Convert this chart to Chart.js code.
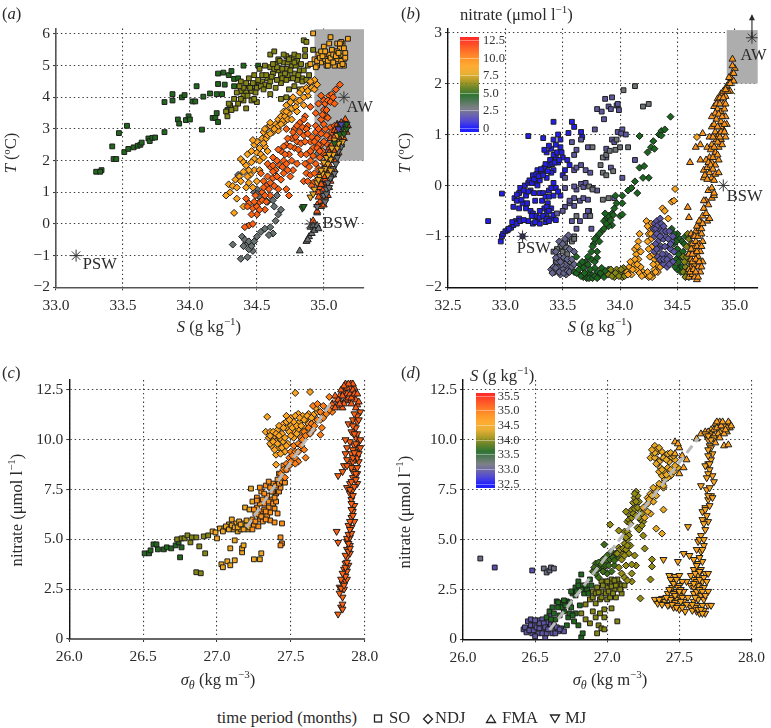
<!DOCTYPE html>
<html>
<head>
<meta charset="utf-8">
<title>Nitrate, temperature and salinity</title>
<script src="https://cdn.jsdelivr.net/npm/chart.js@4"></script>
<style>
    html, body { margin: 0; background: #fff; }
    body { position: relative; width: 771px; height: 728px; overflow: hidden; font-family: "Liberation Serif", serif; color: #2a2a2a; }
    canvas { position: absolute; }
    .t { position: absolute; font-size: 16.6px; line-height: 16px; white-space: nowrap; transform: translate(-50%, -50%); }
    .t.rot { transform: translate(-50%, -50%) rotate(-90deg); }
    .t.left { transform: translate(0, -50%); }
    .t sup { font-size: 11px; line-height: 0; }
    .t sub { font-size: 12px; line-height: 0; }
    .bar { position: absolute; width: 19px; height: 95px; opacity: .9; }
    .bar i { position: absolute; left: 0; width: 19px; height: 1px; background: #ffffff60; }
    .cb { position: absolute; font-size: 12.5px; line-height: 12px; transform: translateY(-50%); color: #333; }
    svg { position: absolute; }
</style>
</head>
<body>
<canvas id="panelA" width="385" height="340" style="left:0;top:0"></canvas>
<canvas id="panelB" width="386" height="340" style="left:385px;top:0"></canvas>
<canvas id="panelC" width="385" height="345" style="left:0;top:345px"></canvas>
<canvas id="panelD" width="386" height="345" style="left:385px;top:345px"></canvas>

<span class="t left" style="left:2px;top:14px">(<i>a</i>)</span>
<span class="t left" style="left:401px;top:14px">(<i>b</i>)</span>
<span class="t left" style="left:2px;top:373px">(<i>c</i>)</span>
<span class="t left" style="left:401px;top:373px">(<i>d</i>)</span>

<span class="t" style="left:209px;top:327px"><i>S</i> (g kg<sup>−1</sup>)</span>
<span class="t rot" style="left:11px;top:153px"><i>T</i> (ºC)</span>
<span class="t" style="left:600px;top:327px"><i>S</i> (g kg<sup>−1</sup>)</span>
<span class="t rot" style="left:405px;top:153px"><i>T</i> (ºC)</span>
<span class="t" style="left:218px;top:680px"><i>σ<sub>θ</sub></i> (kg m<sup>−3</sup>)</span>
<span class="t rot" style="left:17px;top:510px">nitrate (μmol l<sup>−1</sup>)</span>
<span class="t" style="left:610px;top:680px"><i>σ<sub>θ</sub></i> (kg m<sup>−3</sup>)</span>
<span class="t rot" style="left:405px;top:512px">nitrate (μmol l<sup>−1</sup>)</span>

<span class="t left" style="left:460px;top:15px">nitrate (μmol l<sup>−1</sup>)</span>
<span class="t left" style="left:470px;top:376px"><i>S</i> (g kg<sup>−1</sup>)</span>

<span class="t left" style="left:217px;top:718px">time period (months)</span>
<svg width="771" height="728" style="left:0;top:0;pointer-events:none" fill="none" stroke="#222" stroke-width="1.3">
    <rect x="374.5" y="715" width="7" height="7"/>
    <path d="M428 714.5l4.5 4.5-4.5 4.5-4.5-4.5z"/>
    <path d="M491 715l4.5 7.5h-9z"/>
    <path d="M555 722.5l4.5-7.5h-9z"/>
</svg>
<span class="t left" style="left:389px;top:718px">SO</span>
<span class="t left" style="left:435px;top:718px">NDJ</span>
<span class="t left" style="left:502px;top:718px">FMA</span>
<span class="t left" style="left:565px;top:718px">MJ</span>

<script>
// axes
const aXTicks = [33, 33.5, 34, 34.5, 35];
const aXLabels = ["33.0", "33.5", "34.0", "34.5", "35.0"];
const aYTicks = [-2, -1, 0, 1, 2, 3, 4, 5, 6];
const aYLabels = ["−2", "−1", "0", "1", "2", "3", "4", "5", "6"];
const bXTicks = [32.5, 33, 33.5, 34, 34.5, 35];
const bXLabels = ["32.5", "33.0", "33.5", "34.0", "34.5", "35.0"];
const bYTicks = [-2, -1, 0, 1, 2, 3];
const bYLabels = ["−2", "−1", "0", "1", "2", "3"];
const sigmaTicks = [26, 26.5, 27, 27.5, 28];
const sigmaLabels = ["26.0", "26.5", "27.0", "27.5", "28.0"];
const nitrateTicks = [0, 2.5, 5, 7.5, 10, 12.5];
const nitrateLabels = ["0", "2.5", "5.0", "7.5", "10.0", "12.5"];
const salinityTicks = [32.5, 33, 33.5, 34, 34.5, 35, 35.5];
const salinityLabels = ["32.5", "33.0", "33.5", "34.0", "34.5", "35.0", "35.5"];

// colour scale shared by all panels, position 0..1 along the bar
const colourStops = [
    [0, "#0808ff"], [.07, "#3a30d8"], [.14, "#5a52a8"], [.22, "#70747a"], [.3, "#3d6a45"],
    [.36, "#1a661e"], [.44, "#5a7812"], [.52, "#a89212"], [.6, "#e8a820"], [.68, "#ffa41c"],
    [.76, "#ff8a12"], [.86, "#ff5a10"], [1, "#ff1010"]
];

// panel a: salinity, temperature
const aSoGreen = [[33.3,1.65],[33.34,1.7],[33.33,1.65],[33.42,2.45],[33.43,2.05],[33.45,2.05],[33.47,2.87],[33.51,2.27],[33.53,3.1],[33.54,2.37],[33.58,2.42],[33.61,2.47],[33.63,2.5],[33.64,2.57],[33.69,2.7],[33.7,2.62],[33.72,2.72],[33.74,2.73],[33.81,2.9],[33.81,3.85],[33.87,3.9],[33.87,4.1],[33.91,3.3],[33.92,3.17],[33.94,4],[33.96,4.07],[33.97,3.28],[33.99,3.4],[34,3.3],[34.02,3.87],[34.04,3.87],[34.05,4.35],[34.09,2.98],[34.1,4.02],[34.15,4.12],[34.17,3.35],[34.19,3.35],[34.2,3.5],[34.21,3.22],[34.2,4.1],[34.21,4.42],[34.24,4.1],[34.26,4.4],[34.21,4.75],[34.25,4.78],[34.29,4.7],[34.31,4.83],[34.28,3.6],[34.33,4.58],[34.33,4.35],[34.36,4.6],[34.4,5],[34.51,5]];
const aSoOlive = [[34.38,4.2],[34.4,4.3],[34.42,4.15],[34.44,4.35],[34.46,4.2],[34.48,4.4],[34.5,4.3],[34.52,4.45],[34.54,4.5],[34.56,4.4],[34.58,4.6],[34.6,4.5],[34.62,4.75],[34.6,4.95],[34.64,5.05],[34.66,4.85],[34.68,4.7],[34.7,5.1],[34.72,4.9],[34.74,4.6],[34.76,5],[34.78,4.75],[34.8,5.15],[34.82,4.85],[34.84,4.6],[34.86,5.3],[34.88,5],[34.72,5.3],[34.76,5.25],[34.6,5.35],[34.63,5.45],[34.4,3.9],[34.36,3.8],[34.3,3.75],[34.27,3.55],[34.33,3.95],[34.42,3.65],[34.46,3.9],[34.5,3.85],[34.6,4.1],[34.68,3.95],[34.72,4],[34.74,4.25],[34.78,4.35],[34.82,4.25],[34.84,4.5],[34.76,3.95],[34.54,4.7],[34.48,4.7],[34.52,4.9],[34.56,5],[34.7,5.35],[34.78,5.35],[34.85,5.8],[34.87,5.75],[34.86,5.5],[34.92,5.5],[34.89,4.7],[34.66,5.2],[34.73,4.7],[34.8,4.55],[34.68,4.45],[34.64,4.3],[34.38,4.5],[34.44,4.6],[34.35,4.15],[34.45,4.3],[34.47,4.45],[34.49,4.15],[34.51,4.55],[34.53,4.35],[34.55,4.25],[34.57,4.7],[34.59,4.35],[34.61,4.65],[34.63,4.9],[34.65,4.55],[34.67,5.15],[34.69,4.9],[34.71,4.75],[34.73,5.1],[34.75,4.85],[34.77,4.6],[34.79,5],[34.81,4.7],[34.83,5.05],[34.85,4.85],[34.87,4.55],[34.69,4.6],[34.65,4.95],[34.62,5.05],[34.74,5.2],[34.81,5.3],[34.78,5.1],[34.72,4.55],[34.42,4.45],[34.4,4.05],[34.37,4.35],[34.34,3.65],[34.31,3.6],[34.29,3.8],[34.28,3.4],[34.38,3.95],[34.43,4.05],[34.48,3.95]];
const aSoOrange = [[34.92,6.02],[34.93,5.2],[34.96,5.35],[34.98,5.1],[35,5.3],[35.02,5],[35.04,5.35],[35.06,5.1],[35.08,5.45],[35.1,5.2],[35.12,5.55],[35.14,5.3],[35.14,5.7],[35.16,5.4],[35.18,5.85],[35.15,5],[35.12,5],[35.1,5.7],[35.08,5],[35.05,5.9],[35.04,5.7],[35,5.6],[34.95,5],[34.9,5.05],[35.06,5.5],[35.1,5.45],[35.01,5.2],[34.98,5.45],[35.13,5.75],[35.15,5.2],[34.94,4.95],[34.95,5.15],[34.97,5.25],[34.99,5.3],[35.01,5.45],[35.03,5.15],[35.05,5.25],[35.07,5.35],[35.09,5.3],[35.11,5.4],[35.13,5.15],[35.15,5.55],[35.16,5.25],[35.12,5.7],[35.14,5.05],[35.07,5.1],[35.03,5]];
const aNdjOrange = [[34.27,.9],[34.3,1],[34.29,1.25],[34.32,1.2],[34.34,1.4],[34.33,.35],[34.37,1.5],[34.38,2.05],[34.4,1.95],[34.42,1.85],[34.43,2.2],[34.46,2.3],[34.48,2.05],[34.48,2.5],[34.5,2.6],[34.52,2.4],[34.54,2.7],[34.56,2.45],[34.55,2.9],[34.58,3.05],[34.6,3.1],[34.62,2.9],[34.64,3.15],[34.66,3.3],[34.68,3.4],[34.7,3.55],[34.72,3.75],[34.75,3.85],[34.77,4],[34.8,3.85],[34.82,4.15],[34.84,4.25],[34.87,4.3],[34.9,4.45],[34.93,4.55],[34.95,4.4],[34.88,4.05],[34.74,3.5],[34.66,2.95],[34.57,2.7],[34.45,1.55],[34.48,1.7],[34.52,2],[34.42,1.15],[34.35,.8],[34.4,.55],[34.44,1.7],[34.47,2.65],[34.7,3.2],[34.35,1.15],[34.38,1.35],[34.4,1.65],[34.43,1.5],[34.46,1.95],[34.5,2.25],[34.53,2.2],[34.55,2.55],[34.58,2.8],[34.6,2.85],[34.63,3],[34.66,3.1],[34.69,3.25],[34.71,3.4],[34.73,3.3],[34.76,3.65],[34.79,3.7],[34.82,3.9],[34.85,4],[34.88,4.2],[34.91,4.3],[34.93,4.25],[34.9,4.5],[34.85,3.75],[34.8,3.55],[34.76,3.3],[34.72,3.55],[34.68,3.15],[34.5,1.35],[34.44,1.3],[34.47,1.15],[34.52,1.7],[34.55,2.1],[34.58,2.3],[34.56,3],[34.6,3.2]];
const aNdjGrey = [[34.38,-1.1],[34.43,-1.05],[34.47,-.85],[34.44,-.8],[34.42,-.6],[34.39,-.4],[34.41,-.5],[34.44,-.55],[34.32,-.65],[34.48,-.55],[34.5,-.4],[34.53,-.25],[34.56,-.15],[34.6,-.1],[34.62,-.3],[34.59,-.35],[34.64,.1],[34.66,.3],[34.68,.45],[34.63,.55],[34.58,.7],[34.55,.8],[34.5,1.1],[34.53,.95],[34.48,1],[34.5,.95],[34.52,.85],[34.62,.75],[34.65,.9],[34.36,1.55],[34.4,-.7],[34.46,-.7],[34.95,2.2]];
const aNdjRed = [[34.42,.8],[34.44,.65],[34.47,.5],[34.49,.9],[34.5,.3],[34.52,.7],[34.54,1],[34.55,1.35],[34.57,1.2],[34.58,1.5],[34.6,1.8],[34.62,1.45],[34.64,1.7],[34.65,2],[34.66,1.1],[34.68,2.3],[34.7,1.6],[34.7,2],[34.72,2.5],[34.74,2.2],[34.75,1.5],[34.76,2.7],[34.78,2.4],[34.78,3],[34.8,2.6],[34.82,3.2],[34.83,2.2],[34.85,2.8],[34.86,3.4],[34.88,3.1],[34.72,1.1],[34.74,.9],[34.77,1.7],[34.8,1.9],[34.85,1.35],[34.87,1.6],[34.9,2],[34.92,2.4],[34.92,1.3],[34.95,2.7],[34.96,1.75],[34.98,3.3],[35,3.6],[35.02,3.4],[35.04,4.05],[35.06,4.1],[35.09,4.25],[35.12,4.4],[34.96,3.8],[34.98,4.05],[35,3.9],[34.94,3.5],[34.9,3.7],[34.6,.9],[34.53,1.6],[34.62,2.1],[34.66,2.35],[34.44,-.05],[34.41,-.1],[34.47,0],[34.56,.45],[34.58,1.9],[34.9,1.55],[34.72,3],[34.9,2.6],[34.96,1.25],[34.98,1.6],[35,1.9],[35,2.2],[34.98,2.5],[34.97,2.1],[34.99,2.3],[35,2.6],[35.02,2.8],[35.03,2.5],[35.05,3.05],[35.08,3.1],[34.96,2.5],[34.94,2.9],[35.01,3],[35.06,2.9],[34.46,.3],[34.43,.55],[34.48,.7],[34.5,.55],[34.52,.45],[34.54,.75],[34.56,.9],[34.55,1.15],[34.57,.7],[34.59,1.1],[34.6,1.3],[34.62,1.65],[34.63,1.2],[34.62,1.85],[34.65,1.5],[34.67,1.85],[34.68,1.4],[34.69,1.8],[34.71,2.2],[34.7,2.45],[34.72,1.9],[34.73,1.7],[34.73,2.7],[34.75,2.45],[34.76,2],[34.77,2.9],[34.79,2.75],[34.8,3.1],[34.81,2.35],[34.82,2.9],[34.83,2.55],[34.84,3.05],[34.86,2.6],[34.87,3],[34.85,3.3],[34.88,2.85],[34.87,2.2],[34.86,1.9],[34.88,1.35],[34.89,1.8],[34.9,2.3],[34.91,1.2],[34.91,2.75],[34.92,2.15],[34.93,1.6],[34.93,2.6],[34.94,1.9],[34.94,3.1],[34.95,1.4],[34.95,2.4],[34.96,3],[34.97,2.3],[34.98,2.85],[34.99,3.45],[35,3.15],[35.01,3.8],[35.02,3.6],[35.03,3.9],[35.05,3.85],[35.07,4],[35.08,3.8],[35.03,3.35]];
const aFmaGrey = [[34.82,-.85],[34.87,-.55],[34.89,-.4],[34.91,-.3],[34.9,-.1],[34.94,-.1],[34.92,-.05],[34.95,.35],[34.93,-.2],[34.95,-.05],[34.96,-.15],[34.88,-.5]];
const aFmaRed = [[34.92,.1],[34.95,.4],[34.97,.7],[34.96,1],[34.99,.9],[35,1.2],[34.98,1.4],[35.02,1.3],[35.03,1.6],[35,1.7],[35.05,1.8],[35.02,2],[35.06,2.2],[35.04,2.4],[35.08,2.5],[35.05,2.7],[35.1,2.7],[35.08,2.95],[35.12,3],[35.16,3.3],[35.13,3.2],[35.1,3.15],[34.95,.6],[34.98,.55],[35,.6],[34.96,.85],[35.01,.85],[35.03,.9],[34.97,1.15],[35,1.1],[35.04,1.15],[34.98,1.25],[35.01,1.4],[35.05,1.35],[35,1.5],[35.04,1.5],[35.07,1.55],[35.01,1.85],[35.04,1.75],[35.08,1.7],[35.03,2.05],[35.06,2],[35.09,2],[35.04,2.25],[35.08,2.3],[35.11,2.25],[35.06,2.5],[35.1,2.5],[35.13,2.5],[35.08,2.75],[35.12,2.75],[35.15,2.7],[35.1,2.95],[35.14,2.95],[35.17,2.9],[35.12,3.1],[35.15,3.15],[35.18,3.1]];
const aMjOrange = [[34.9,.85],[34.93,1.1],[34.95,1.3],[34.97,1.5],[34.99,1.6],[35.01,1.75],[35.03,1.9],[35.05,2.05],[35.07,2.2],[35.1,2.4],[35.12,2.6],[35.14,2.8],[35.16,2.95],[34.92,.95],[34.96,1.4],[34.98,1.7],[35,1.95],[35.02,2.1],[35.04,2.2],[35.06,2.4],[35.08,2.65],[35.1,2.8],[35.12,3],[35.14,2.6],[35.11,2.55],[35.03,1.55],[35.05,1.7]];
const aMjGrey = [[35,.9],[35.02,1.1],[35.03,1.3],[35.06,1.5],[35.07,1.75],[35.09,1.9],[35.1,2.1],[35.11,2.3],[35.13,2.45],[35.01,.7],[35.02,.95],[35.04,1.15],[35.05,1.45],[35.08,1.6],[34.95,.55]];
const aMjGreen = [[34.84,.5],[34.85,.55],[35.08,2.55],[35.12,2.85],[35.14,3.05],[35.16,3.1],[35.17,3],[35.15,2.85],[35.17,3.15],[35.12,3.15]];
const aMjPurple = [[35.11,3],[35.13,3.15]];

// panel b: salinity, temperature
const bSoBlue = [[32.85,-.7],[32.96,-1.1],[32.97,-1],[32.98,-.95],[33,-.9],[33.02,-.88],[33.05,-.83],[33.07,-.78],[33.09,-.7],[33.12,-.65],[33.15,-1],[32.97,-.16],[33.07,-.42],[33.08,-.25],[33.1,-.3],[33.12,-.15],[33.12,-.45],[33.15,-.35],[33.13,-.05],[33.18,-.2],[33.17,0],[33.2,.05],[33.22,-.1],[33.24,.2],[33.26,.05],[33.28,.3],[33.3,.1],[33.32,.28],[33.34,.35],[33.36,.15],[33.38,.4],[33.4,.5],[33.42,.3],[33.44,.55],[33.46,.45],[33.48,.75],[33.4,.25],[33.36,.65],[33.34,.7],[33.42,.6],[33.44,.8],[33.48,.9],[33.5,.55],[33.54,.5],[33.2,.97],[33.33,.93],[33.42,1.25],[33.55,1.03],[33.58,1.25],[33.6,1.15],[33.66,1.05],[33.67,.95],[33.2,-.7],[33.24,-.75],[33.28,-.7],[33.3,-.75],[33.35,-.72],[33.18,-.45],[33.22,-.5],[33.26,-.3],[33.3,-.15],[33.32,-.3],[33.28,0],[33.38,-.1],[33.34,-.45],[33.4,-.65],[33.44,-.68],[33.3,-.5],[33.36,-.55],[33.37,-.35],[33.4,-.45],[33.42,-.2],[33.44,-.05],[33.48,-.2],[33.42,.05],[33.5,.2],[33.52,.3],[33.56,.4],[33.03,-.85],[33.06,-.72],[33.1,-.75],[33.13,-.7],[33.16,-.68],[33.1,-.18],[33.14,-.28],[33.16,-.1],[33.19,-.35],[33.2,-.12],[33.21,.1],[33.23,.05],[33.25,.12],[33.27,.22],[33.29,.18],[33.31,.32],[33.33,.2],[33.35,.42],[33.37,.28],[33.39,.5],[33.41,.42],[33.43,.45],[33.45,.65],[33.47,.5],[33.49,.65],[33.4,.72],[33.38,.78],[33.42,.9],[33.46,1],[33.24,-.55],[33.27,-.6],[33.3,-.63],[33.33,-.6],[33.36,-.66],[33.38,-.7],[33.25,-.15],[33.33,-.15],[33.35,-.22],[33.38,-.22],[33.4,-.05],[33.46,-.12],[33.36,-.42],[33.38,-.5],[33.42,-.58],[33.26,-.72],[33.23,-.6]];
const bSoSlate = [[33.58,.85],[33.62,.7],[33.6,.6],[33.66,.9],[33.72,.75],[33.78,1.1],[33.8,1.5],[33.84,1.45],[33.86,1.3],[33.87,1.7],[33.9,1.55],[33.93,1.73],[33.92,1.5],[33.97,1.57],[33.98,1.6],[33.99,1.48],[33.93,.9],[33.95,.85],[33.98,1.05],[34.02,1.1],[34.05,1],[34.01,1.02],[34.13,.5],[33.6,.3],[33.62,.35],[33.66,.4],[33.7,.3],[33.74,.25],[33.66,.03],[33.62,-.08],[33.68,-.03],[33.6,-.4],[33.56,-.35],[33.52,-.42],[33.6,-.25],[33.65,-.3],[33.68,-.25],[33.72,-.28],[33.58,-.7],[33.62,-.85],[33.7,-.6],[33.65,-.7],[33.73,-.5],[33.75,-.85],[33.56,-.3],[33.5,-.5],[33.45,-.55],[33.52,-.05],[33.6,-.02],[33.7,.05],[33.52,.15],[33.72,-.5],[33.76,-.05],[33.8,-.1],[33.88,.55],[33.88,.72],[33.92,.35],[34.02,.15],[33.95,-.25]];
const bSoGrey = [[33.76,.75],[33.85,.55],[33.88,.6],[33.91,.68],[33.83,.4],[33.85,.25],[33.88,.2],[33.94,.28],[33.96,.7],[34.03,1.87],[34.13,1.95],[34.2,1.55],[34.25,1.6],[33.73,-.02],[33.76,-.08],[33.85,-.28],[33.9,-.25],[33.62,-.6],[33.74,-.6],[34,.75],[34.07,.75],[33.97,.9],[33.6,-1],[33.56,-1.05],[33.58,-1.1],[33.52,-1.12],[33.48,-1.2],[33.45,-1.25],[33.42,-1.3],[33.5,-1.3],[33.53,-1.22],[33.46,-1.4],[33.44,-1.5],[33.5,-1.45],[33.54,-1.35],[33.56,-1.5],[33.6,-1.05]];
const bNdjSlate = [[33.4,-1.65],[33.43,-1.7],[33.46,-1.6],[33.48,-1.75],[33.5,-1.65],[33.53,-1.75],[33.55,-1.6],[33.52,-1.55],[33.45,-1.5],[33.58,-1.6],[33.42,-1.6],[33.6,-1.55],[33.47,-1.4],[33.51,-1.42],[33.41,-1.72],[33.44,-1.62],[33.47,-1.7],[33.49,-1.55],[33.51,-1.72],[33.54,-1.68],[33.56,-1.7],[33.44,-1.42],[33.48,-1.5],[33.54,-1.45],[33.58,-1.45],[33.6,-1.3],[33.56,-1.25],[33.44,-1.3],[33.47,-1.1],[33.5,-1.15],[33.52,-1.05],[33.55,-.98]];
const bNdjGreen = [[33.62,-1.4],[33.65,-1.55],[33.68,-1.62],[33.7,-1.5],[33.75,-1.45],[33.8,-1.3],[33.75,-1.3],[33.77,-1.15],[33.8,-1],[33.84,-.9],[33.88,-.65],[33.9,-.6],[33.93,-.55],[33.95,-.45],[33.97,-.35],[33.93,-.78],[33.9,-.8],[33.87,-.55],[34,-.6],[34.02,-.57],[34.02,-.35],[33.96,-.2],[34.02,-.2],[34.07,-.1],[34.1,-.05],[34.15,-.15],[34.13,.08],[34.25,.15],[34.2,.15],[34.17,.35],[34.21,.38],[34.17,.97],[34.24,.65],[34.27,.75],[34.3,.72],[34.29,.87],[34.34,1],[34.36,1.07],[34.39,1.1],[34.44,1.35],[34.36,.98],[33.65,-1.75],[33.7,-1.8],[33.75,-1.75],[33.8,-1.7],[33.85,-1.7],[33.9,-1.65],[33.6,-1.7],[33.72,-1.72],[33.82,-1.78],[33.78,-1.62],[33.88,-1.75],[33.68,-1.8],[33.62,-1.72],[34.45,-.85],[34.48,-1],[34.5,-.95],[34.52,-1.05],[34.54,-1.1],[34.5,-1.25],[34.47,-1.3],[34.46,-1.5],[34.49,-1.45],[34.52,-1.6],[34.5,-1.65],[34.55,-1.3],[34.53,-1.4],[34.57,-1],[33.64,-1.65],[33.66,-1.78],[33.69,-1.72],[33.71,-1.82],[33.73,-1.82],[33.74,-1.65],[33.76,-1.82],[33.78,-1.78],[33.8,-1.82],[33.83,-1.72],[33.84,-1.62],[33.86,-1.8],[33.87,-1.68],[33.72,-1.55],[33.67,-1.5],[33.78,-1.5],[33.8,-1.42],[33.72,-1.4],[33.76,-1.2],[33.78,-1.05],[33.82,-1.1],[33.82,-.95],[33.86,-.85],[33.86,-.7],[33.88,-.75],[33.92,-.68],[33.94,-.58],[34.47,-1.15],[34.49,-1.1],[34.51,-1.35],[34.48,-1.6],[34.51,-1.5],[34.53,-1.7],[34.47,-.95],[34.54,-1.6],[34.56,-1.15]];
const bNdjOlive = [[33.9,-1.75],[33.92,-1.65],[33.95,-1.8],[33.98,-1.7],[34,-1.75],[34.02,-1.8],[34.05,-1.7],[33.97,-1.65],[34.03,-1.62],[34.55,-1.4],[34.57,-1.6],[34.58,-1.2],[34.6,-1.05],[34.6,-1.5],[34.55,-1.7],[34.58,-1.75],[34.62,-1.3],[34.6,-1.8],[33.93,-1.78],[33.96,-1.72],[33.99,-1.78],[34.01,-1.65],[34.04,-1.78],[34.56,-1.5],[34.58,-1.4],[34.6,-1.65],[34.57,-1.8],[34.62,-1.15],[34.59,-.95]];
const bNdjOrange = [[34.06,-1.7],[34.08,-1.6],[34.1,-1.75],[34.12,-1.55],[34.14,-1.65],[34.14,-1.35],[34.13,-1.25],[34.16,-1.1],[34.17,-.95],[34.16,-1.45],[34.18,-1.6],[34.2,-1.7],[34.22,-1.75],[34.25,-1.8],[34.28,-1.75],[34.3,-1.65],[34.32,-1.55],[34.3,-1.45],[34.33,-1.7],[34.28,-1.8],[34.23,-.7],[34.26,-.85],[34.27,-1.05],[34.25,-.95],[34.28,-1.2],[34.26,-1.4],[34.37,-.45],[34.39,-.5],[34.42,-.65],[34.45,-.32],[34.47,-.3],[34.48,-.07],[34.27,-.75],[34.35,-1.6],[34.67,.95],[34.07,-1.75],[34.09,-1.5],[34.11,-1.65],[34.13,-1.45],[34.15,-1.55],[34.15,-1.2],[34.18,-1.3],[34.17,-1.72],[34.19,-1.78],[34.24,-1.7],[34.26,-1.78],[34.29,-1.55],[34.31,-1.7],[34.32,-1.4],[34.29,-1.35],[34.24,-1.1],[34.25,-1.25],[34.24,-.8],[34.27,-.95]];
const bNdjPurple = [[34.3,-.75],[34.32,-.7],[34.35,-.65],[34.34,-.85],[34.37,-.9],[34.3,-1],[34.33,-1.1],[34.36,-1.2],[34.38,-1.05],[34.3,-1.3],[34.33,-1.4],[34.36,-1.5],[34.4,-1.35],[34.43,-1.4],[34.42,-1.2],[34.45,-1.1],[34.4,-1],[34.44,-1.25],[34.38,-1.55],[34.41,-1.6],[34.46,-1.5],[34.29,-.85],[34.31,-.85],[34.33,-.78],[34.36,-.75],[34.32,-.95],[34.35,-1],[34.31,-1.15],[34.34,-1.25],[34.37,-1.35],[34.39,-1.2],[34.32,-1.25],[34.35,-1.45],[34.38,-1.45],[34.41,-1.45],[34.44,-1.15],[34.42,-1.05],[34.46,-1],[34.4,-.9],[34.38,-.8],[34.43,-.9],[34.47,-1.3],[34.43,-1.55]];
const bFmaOrange = [[34.6,-1.8],[34.63,-1.75],[34.65,-1.8],[34.67,-1.85],[34.62,-1.6],[34.65,-1.55],[34.68,-1.6],[34.7,-1.7],[34.62,-1.45],[34.65,-1.35],[34.68,-1.4],[34.7,-1.3],[34.72,-1.5],[34.63,-1.15],[34.66,-1.1],[34.69,-1.15],[34.72,-1.1],[34.62,-.95],[34.66,-.9],[34.69,-.85],[34.64,-1],[34.7,-.7],[34.72,-.6],[34.76,-.7],[34.78,-.65],[34.73,-.45],[34.75,-.55],[34.75,-.3],[34.77,-.38],[34.8,-.25],[34.82,-.2],[34.77,-.1],[34.8,-.05],[34.82,-.15],[34.6,-.63],[34.59,-.43],[34.61,.45],[34.66,.75],[34.7,.8],[34.72,1.02],[34.7,.5],[34.73,.3],[34.76,.35],[34.73,.15],[34.78,.25],[34.8,.15],[34.83,.22],[34.82,.1],[34.78,.55],[34.8,.45],[34.83,.4],[34.86,.5],[34.76,.75],[34.78,.95],[34.8,.8],[34.83,.65],[34.86,.75],[34.88,.9],[34.8,1.15],[34.83,1.05],[34.86,1],[34.9,1.1],[34.93,1.2],[34.8,1.35],[34.84,1.3],[34.88,1.25],[34.92,1.35],[34.82,1.55],[34.85,1.5],[34.88,1.45],[34.9,1.6],[34.85,1.7],[34.88,1.8],[34.9,1.85],[34.92,1.75],[34.93,1.95],[34.95,2],[34.96,1.85],[34.97,2.1],[34.98,2.2],[35,2.3],[34.99,2.05],[34.98,2.48],[34.88,1.15],[34.92,.95],[34.86,.25],[34.6,-1.65],[34.64,-1.25],[34.67,-1.2],[34.61,-1.7],[34.64,-1.65],[34.66,-1.7],[34.68,-1.8],[34.63,-1.5],[34.66,-1.45],[34.69,-1.5],[34.71,-1.6],[34.6,-1.35],[34.63,-1.35],[34.67,-1.3],[34.71,-1.2],[34.62,-1.25],[34.65,-1],[34.68,-1],[34.71,-.95],[34.67,-.8],[34.69,-.7],[34.71,-.85],[34.72,-.75],[34.73,-.3],[34.74,.2],[34.76,.12],[34.75,.5],[34.77,.45],[34.79,.4],[34.81,.55],[34.81,.32],[34.85,.6],[34.84,.9],[34.81,.95],[34.79,.7],[34.82,.75],[34.85,.85],[34.87,.95],[34.89,.8],[34.91,1.2],[34.82,1.2],[34.85,1.15],[34.88,1.05],[34.91,1.05],[34.83,1.42],[34.86,1.4],[34.89,1.35],[34.91,1.5],[34.84,1.6],[34.87,1.6],[34.92,1.6],[34.87,1.72],[34.9,1.72],[34.94,1.85],[34.92,1.88],[34.96,2],[34.95,2.12],[34.99,2.2],[34.98,2.35]];

// panel c: density, nitrate
const cSoGreen = [[26.51,4.3],[26.54,4.3],[26.55,4.45],[26.57,4.75],[26.59,4.75],[26.6,4.5],[26.64,4.5],[26.66,4.6],[26.69,4.55],[26.72,4.7],[26.74,4.85],[26.75,4.1],[26.76,4.6]];
const cSoOlive = [[26.73,5],[26.76,5.05],[26.78,5.05],[26.8,5.2],[26.82,4.85],[26.83,5.1],[26.86,5.1],[26.86,3.35],[26.89,3.3],[26.88,4.65],[26.92,4.3],[26.91,5.15],[26.94,5.2]];
const cSoLight = [[26.97,5.4],[27,5.05],[26.99,5.35],[27.02,5.55],[27.03,3.75],[27.04,3.6],[27.05,5.55],[27.07,3.9],[27.08,5.75],[27.09,3.7],[27.09,4.55],[27.1,6],[27.12,3.95],[27.11,5.5],[27.13,5.8],[27.14,5.4],[27.15,5.9],[27.12,4.95],[27.16,5.5],[27.18,5.8],[27.17,4.35],[27.17,4.55],[27.18,4.7],[27.19,6.6],[27.21,5.5],[27.22,6.5],[27.2,5.7],[27.23,7.55],[27.24,6.9],[27.25,4],[27.23,5.8],[27.29,4],[27.3,4.3],[27.04,5.4],[27.06,5.65],[27.08,5.5],[27.1,5.7],[27.12,5.6],[27.14,5.6],[27.16,5.75],[27.18,5.5],[27.2,5.95],[27.22,5.6]];
const cSoOrange = [[27.24,6],[27.25,5.7],[27.26,6.3],[27.27,6.6],[27.27,7.1],[27.28,5.65],[27.29,6],[27.3,7.4],[27.3,6.4],[27.31,5.9],[27.32,6.8],[27.33,7.7],[27.34,6.2],[27.34,7.2],[27.35,6.6],[27.36,5.95],[27.37,7],[27.38,7.8],[27.39,6.55],[27.39,5.85],[27.41,6.3],[27.4,7.3],[27.42,7.4],[27.43,5.1],[27.44,4.8],[27.43,4.7],[27.44,5.8],[27.43,7.6],[27.41,8],[27.38,7.4],[27.29,7.6],[27.35,7.9],[27.24,5.5],[27.26,5.9],[27.28,6.25],[27.3,6.15],[27.32,6.5],[27.33,6],[27.35,6.9],[27.36,6.35],[27.37,7.4],[27.38,6.8],[27.4,7.7],[27.36,7.6],[27.32,7.3],[27.29,6.8],[27.27,6.95],[27.25,6.5],[27.31,7],[27.33,6.4],[27.4,6.9],[27.42,7.8],[27.39,7.1],[27.44,7.9],[27.46,7.85],[27.42,8.3],[27.44,8.1],[27.45,8.7],[27.47,8.5]];
const cNdjOrange = [[27.34,11.15],[27.33,10.4],[27.36,10.4],[27.38,10],[27.37,9.7],[27.39,10.2],[27.41,10.5],[27.4,9.25],[27.42,9.6],[27.43,10.05],[27.45,9.9],[27.45,10.8],[27.47,10.6],[27.46,9.4],[27.48,9.8],[27.5,10.7],[27.5,11.1],[27.52,10.9],[27.53,12.35],[27.55,11.3],[27.56,10.9],[27.58,11.2],[27.6,11],[27.62,11.3],[27.63,12.4],[27.65,11.2],[27.66,10.95],[27.6,10.6],[27.55,10.5],[27.52,10.4],[27.42,10.7],[27.4,8.75],[27.35,10.1],[27.36,9.8],[27.44,10.3],[27.47,11.2],[27.36,10.2],[27.38,10.4],[27.4,10.3],[27.4,9.9],[27.42,10.2],[27.44,9.6],[27.46,10.1],[27.47,9.7],[27.38,9.9],[27.41,9.8],[27.39,9.5],[27.43,9.3],[27.45,10.6],[27.47,10.9],[27.49,10.4],[27.49,11],[27.51,10.6],[27.53,11.2],[27.54,10.7],[27.56,11.1],[27.57,10.7],[27.59,11],[27.61,11.2],[27.62,10.8],[27.64,11.1],[27.66,11.3],[27.68,11.4],[27.7,11],[27.72,11.2],[27.67,11.6],[27.58,10.4],[27.52,10.1],[27.5,10.2],[27.54,10.3]];
const cNdjRed = [[27.43,8.3],[27.45,8.5],[27.47,8.8],[27.49,9.1],[27.5,9.4],[27.52,9.7],[27.54,9],[27.55,9.8],[27.57,10.1],[27.59,10.4],[27.62,10.6],[27.64,10.8],[27.68,11],[27.7,11.4],[27.65,11.7],[27.68,11.8],[27.72,11.7],[27.7,10.25],[27.71,10.6],[27.75,11.5],[27.78,11.4],[27.76,12.15],[27.6,9.1],[27.55,8.9],[27.46,8.1],[27.5,8.9],[27.47,8.5],[27.49,8.7],[27.51,9.2],[27.53,9.4],[27.53,8.8],[27.55,9.4],[27.57,9.7],[27.59,9.5],[27.58,10],[27.6,10.2],[27.63,10.3],[27.65,10.5],[27.66,10.7],[27.72,11.1],[27.74,11.3],[27.76,11.5],[27.78,11.7]];
const cFmaPeak = [[27.78,11.8],[27.8,12],[27.81,11.7],[27.83,12.2],[27.84,11.9],[27.85,11.6],[27.86,12.4],[27.87,12.8],[27.88,12.3],[27.89,11.95],[27.9,12.6],[27.91,12.85],[27.92,12.2],[27.93,12.6],[27.94,12],[27.95,11.75],[27.94,11.6],[27.87,12],[27.84,12.5],[27.8,12.2],[27.82,12],[27.85,12.2],[27.86,11.8],[27.88,12.6],[27.89,12.1],[27.9,12.3],[27.91,12.1],[27.92,12.5],[27.93,12.3],[27.92,12.8],[27.89,12.8],[27.86,12.7],[27.83,11.8],[27.8,11.6],[27.95,12.3],[27.96,11.9],[27.91,11.8]];
const cMjRed = [[27.82,1.25],[27.84,1.6],[27.85,1.75],[27.85,2.1],[27.86,2.5],[27.83,2.6],[27.85,2.8],[27.87,2.9],[27.86,3.2],[27.88,3],[27.86,3.5],[27.88,3.4],[27.87,3.8],[27.89,3.7],[27.88,4.1],[27.9,4.3],[27.88,4.5],[27.9,4.7],[27.88,4.9],[27.9,5.1],[27.81,5.4],[27.82,4.85],[27.91,5.6],[27.89,5.7],[27.93,5.9],[27.91,6.1],[27.92,6.4],[27.93,6.7],[27.91,7],[27.9,7.3],[27.92,7.5],[27.88,7.6],[27.9,7.8],[27.92,8.1],[27.95,7.8],[27.95,8.3],[27.93,8.6],[27.9,8.8],[27.94,9],[27.96,8.9],[27.88,9],[27.85,8.4],[27.86,8.7],[27.82,8.2],[27.91,9.3],[27.95,9.4],[27.93,9.7],[27.96,9.9],[27.9,9.9],[27.94,10.1],[27.97,10],[27.91,10.4],[27.94,10.6],[27.92,11],[27.97,11.4],[27.95,11.2],[27.89,10.8],[27.87,10],[27.85,1.5],[27.83,2.3],[27.84,2.55],[27.86,2.7],[27.84,3],[27.87,3.15],[27.85,3.3],[27.87,3.6],[27.88,3.85],[27.87,4.2],[27.89,4.4],[27.9,4.55],[27.89,4.8],[27.88,5.05],[27.89,5.25],[27.91,5.3],[27.9,5.5],[27.9,5.9],[27.92,6.2],[27.91,6.5],[27.91,6.8],[27.92,7.2],[27.9,7.5],[27.93,7.65],[27.91,7.9],[27.94,8],[27.92,8.4],[27.91,8.6],[27.95,8.6],[27.92,8.9],[27.94,9.2],[27.92,9.5],[27.96,9.6],[27.94,9.8],[27.95,10.3],[27.93,10.3],[27.92,10.7],[27.95,10.9],[27.96,11],[27.93,11.3],[27.88,8.7],[27.87,9.3],[27.88,9.6],[27.95,9.1],[27.96,9.3],[27.92,9.1],[27.93,9.35],[27.97,9.6],[27.94,8.3]];
const cFitX = [27.2, 27.79];
const cFitY = [5.6, 12.05];

// panel d: density, nitrate
const dSoGrey = [[26.12,4.05],[26.56,3.55],[26.58,3.35],[26.6,3.45],[26.61,3.6],[26.63,3.55]];
const dSoIndigo = [[26.22,3.6],[26.48,3.45]];
const dSoPurple = [[26.42,.5],[26.44,.35],[26.45,.9],[26.47,.6],[26.48,.3],[26.49,.8],[26.5,.5],[26.52,.95],[26.52,.3],[26.54,.7],[26.55,1],[26.56,.45],[26.57,.1],[26.58,.85],[26.6,.6],[26.6,1.2],[26.62,.3],[26.64,.5],[26.66,.4],[26.68,.55],[26.7,.4],[26.47,.7],[26.5,.15],[26.43,.6],[26.46,.45],[26.47,1],[26.49,.45],[26.5,.7],[26.51,.6],[26.53,.55],[26.53,.8],[26.55,.3],[26.56,.8],[26.57,.6],[26.58,.3],[26.59,.5],[26.61,.75],[26.63,.7],[26.64,.3],[26.65,.6],[26.67,.5],[26.5,.95]];
const dSoGreen = [[26.6,1.4],[26.62,1.6],[26.65,1.9],[26.68,1.8],[26.7,1.4],[26.72,1.9],[26.73,1.1],[26.75,1.6],[26.77,.9],[26.78,1.3],[26.8,.7],[26.81,1.7],[26.82,.1],[26.83,.3],[26.64,1],[26.72,.7],[26.76,2.3],[26.78,2.6],[26.8,2.9],[26.82,3.25],[26.84,2.3],[26.86,2.5],[26.88,3],[26.83,2.7],[26.58,1.1],[26.61,1],[26.63,1.3],[26.66,1.6],[26.67,1.2],[26.69,1.6],[26.71,1.7],[26.74,1.3],[26.76,1.2],[26.66,1.85],[26.7,1.95],[26.74,1.85],[26.78,2.2],[26.79,2.4],[26.82,2.5],[26.85,2.7],[26.87,2.3],[26.89,2.7],[26.8,2.7],[26.75,2.4]];
const dSoOlive = [[26.85,1.75],[26.88,2],[26.9,1.4],[26.88,.8],[26.92,1.1],[26.94,.7],[26.96,.55],[26.93,.3],[26.98,.5],[27.07,.9],[27.03,1.55],[26.92,1.8],[26.95,2],[26.98,1.5],[27,2],[26.9,2.4],[26.93,2.6],[26.96,2.4],[26.98,2.9],[27,2.6],[27.02,2.1],[27.03,3],[27.05,2.5],[27.06,2.1],[27.08,2.8],[27.1,2.3],[27.02,2.8],[26.96,2.9],[26.85,1],[26.82,1.3],[27.1,2.7],[27.12,2.7],[26.9,2.1],[26.92,2.3],[26.94,2.35],[26.96,2.1],[26.97,2.7],[26.99,2.3],[27,2.9],[27.01,2.4],[27.03,2.65],[27.04,2.3],[27.06,2.7],[27.07,3],[27.09,2.5],[26.98,1.1],[26.95,1.3],[27.05,2.95]];
const dNdjGreen = [[26.9,3.4],[26.92,3.8],[26.95,3.6],[26.97,4],[27,3.9],[26.98,4.75],[27.03,4.4],[27.05,3.7],[27.07,4.1],[27,3.3],[26.94,3.1],[26.92,3.3],[27.03,3.4],[26.91,3.6],[26.93,3.5],[26.94,3.85],[26.96,3.75],[26.98,3.6],[26.99,3.7],[27,4.2],[27.01,3.7],[27.02,4],[27.04,4.1],[27.05,3.95],[27.06,4.3],[26.97,3.4]];
const dNdjOlive = [[27.08,4.6],[27.1,4.3],[27.12,4.8],[27.14,5],[27.12,5.4],[27.14,5.9],[27.13,6.4],[27.16,6.2],[27.15,6],[27.17,6.5],[27.18,6.85],[27.19,7.1],[27.2,7.4],[27.22,6.9],[27.22,6.5],[27.24,6.3],[27.25,5.9],[27.21,5.6],[27.23,6],[27.1,4],[27.15,4.3],[27.2,3.7],[27.17,3.3],[27.13,3.7],[27.16,4.7],[27.19,4.2],[27.26,4.55],[27.02,5.75],[27.08,5.45],[27.25,5.2],[27.17,2.9],[27.23,2.05],[27.31,4],[27.31,3.65],[27.3,3],[27.07,4.3],[27.09,4.5],[27.11,4.55],[27.12,4.2],[27.13,4.5],[27.14,5.4],[27.15,5.2],[27.14,4.7],[27.13,5.1],[27.16,5.8],[27.17,6.1],[27.18,6.3],[27.19,6.55],[27.2,6.9],[27.21,7.2],[27.2,6.2],[27.22,6.1],[27.24,5.7],[27.22,5.5],[27.19,7.3],[27.21,6.6],[27.17,3.75],[27.1,3.3],[27.08,3.6],[27.12,3.1],[27.14,2.95]];
const dNdjYellow = [[27.32,9.3],[27.33,9.7],[27.35,9.4],[27.35,9],[27.37,8.6],[27.38,8.2],[27.4,8],[27.36,8.9],[27.4,8.4],[27.42,8.6],[27.43,8.9],[27.4,9.2],[27.38,9.4],[27.42,9.3],[27.45,9.1],[27.47,9],[27.49,8.6],[27.46,8.4],[27.44,8.2],[27.34,9.5],[27.3,9.1],[27.28,7.1],[27.3,7.3],[27.33,7.5],[27.35,7.6],[27.38,7.8],[27.39,7.6],[27.25,6.6],[27.28,6.8],[27.32,6.9],[27.3,6.3],[27.34,5.55],[27.38,5.3],[27.39,6.5],[27.39,7.7],[27.33,9.1],[27.34,8.8],[27.36,8.4],[27.38,8.5],[27.36,9.6],[27.39,9.1],[27.41,9],[27.44,9.35],[27.46,9.2],[27.47,8.7],[27.44,8.5],[27.42,8.1],[27.41,8.25],[27.33,9.35],[27.31,9.5],[27.26,6.1],[27.28,6.4],[27.29,7],[27.31,7.2],[27.32,7.6],[27.36,7.8],[27.34,7.2]];
const dFmaOrange = [[27.47,9.3],[27.5,9.6],[27.52,9.2],[27.55,9],[27.53,8.6],[27.5,8.3],[27.47,9.9],[27.49,9.8],[27.62,10.05],[27.65,10.3],[27.68,10.4],[27.7,10.2],[27.72,10.5],[27.75,10.8],[27.78,10.9],[27.8,10.5],[27.82,10.7],[27.85,10.8],[27.83,10.4],[27.78,10.4],[27.75,9.85],[27.85,10.6],[27.81,9.7],[27.84,9.75],[27.7,10.4],[27.72,10.3],[27.74,10.5],[27.76,10.6],[27.77,10.3],[27.79,10.7],[27.81,10.3],[27.83,10.6],[27.84,10.9],[27.8,10.9],[27.76,10.9],[27.74,10.2],[27.78,10.1],[27.86,10.7],[27.82,10.5]];
const dMjOrange = [[27.68,10.3],[27.7,10],[27.71,9.7],[27.73,9.3],[27.72,9],[27.7,8.8],[27.71,8.5],[27.68,8.7],[27.73,8.2],[27.7,8.3],[27.74,7.9],[27.65,7.7],[27.69,7.5],[27.71,7.6],[27.72,7.2],[27.7,7],[27.68,6.6],[27.71,6.7],[27.66,6.4],[27.7,5.9],[27.66,6],[27.68,5.5],[27.56,5.65],[27.65,5.2],[27.63,4.9],[27.65,4.4],[27.62,4.5],[27.67,4.7],[27.39,4],[27.49,3.9],[27.53,4.3],[27.57,4.2],[27.6,4],[27.63,3.8],[27.66,3.9],[27.6,3.5],[27.65,3.5],[27.68,3.3],[27.55,2.9],[27.6,3],[27.63,3.2],[27.66,2.9],[27.7,3.3],[27.43,3.2],[27.45,2.9],[27.47,3.15],[27.5,3.2],[27.52,2.9],[27.45,2.6],[27.48,2.4],[27.5,2.7],[27.53,2.4],[27.42,2.3],[27.45,2.1],[27.48,2],[27.5,2.2],[27.53,1.9],[27.33,2],[27.35,1.8],[27.38,2.05],[27.4,1.9],[27.43,1.75],[27.46,1.6],[27.5,1.5],[27.54,1.4],[27.58,1.6],[27.6,1.9],[27.62,1.4],[27.64,1.3],[27.67,1.45],[27.7,1.7],[27.6,2.3],[27.63,2],[27.65,2.2],[27.67,2],[27.7,2.4],[27.58,2.7],[27.6,2.6],[27.63,2.7],[27.67,2.6],[27.56,2.1],[27.66,1.7],[27.68,1.3],[27.72,1.7],[27.62,1.7],[27.55,1.75],[27.44,3],[27.46,2.8],[27.48,3],[27.49,2.6],[27.51,2.5],[27.43,2.5],[27.46,2.3],[27.47,2.2],[27.5,2.4],[27.52,2.1],[27.44,2],[27.47,1.85],[27.49,1.7],[27.51,1.9],[27.52,1.6],[27.36,2],[27.38,1.75],[27.41,2.1],[27.42,1.7],[27.45,1.75],[27.48,1.6],[27.59,1.45],[27.61,1.6],[27.63,1.5],[27.65,1.5],[27.66,1.3],[27.59,1.75],[27.61,2.1],[27.62,2.4],[27.64,2.5],[27.66,2.4],[27.68,2.2],[27.62,2.9],[27.64,3],[27.6,2.8],[27.58,3.2],[27.61,3.3],[27.64,3.4],[27.67,3.1],[27.69,2.9],[27.62,3.7],[27.64,4.1],[27.66,4.5],[27.64,5],[27.67,5],[27.67,5.8],[27.69,6.2],[27.68,6.5],[27.7,7.2],[27.73,7.1],[27.69,8.1],[27.7,9.2],[27.72,9.6],[27.74,10.1],[27.72,10],[27.7,9.5],[27.71,8.8],[27.7,10.2]];
const dFitX = [26.6, 27.63];
const dFitY = [.47, 10.08];

// water masses
const aMassNames = ["AW", "BSW", "PSW"];
const aMassX = [35.15, 34.9, 33.15];
const aMassY = [4, 0, -1];
const aNameX = [35.17, 34.99, 33.2];
const aNameY = [3.66, 0, -1.28];
const bMassX = [35.15, 34.9, 33.15];
const bMassY = [2.9, 0, -1];
const bNameX = [35.05, 34.93, 33.1];
const bNameY = [2.55, -.22, -1.24];
const aShade = [34.93, 35.3, 2, 6.15];
const bShade = [34.93, 35.2, 2, 3.05];
const bArrow = [35.15, 2.9, 3.34];

const markers = {
    SO: { style: "rect", radius: 3.4, rotation: 0 },
    NDJ: { style: "rectRot", radius: 3.5, rotation: 0 },
    FMA: { style: "triangle", radius: 4, rotation: 0 },
    MJ: { style: "triangle", radius: 4, rotation: 180 }
};

function hexToRgb(h) {
    return [1, 3, 5].map(i => parseInt(h.substr(i, 2), 16));
}

function colourAt(t) {
    t = Math.max(0, Math.min(1, t));
    let i = 0;
    while (i < colourStops.length - 2 && colourStops[i + 1][0] < t) i++;
    const [t0, c0] = colourStops[i];
    const [t1, c1] = colourStops[i + 1];
    const a = hexToRgb(c0), b = hexToRgb(c1), f = (t - t0) / (t1 - t0);
    return `rgb(${a.map((v, k) => Math.round(v + (b[k] - v) * f)).join(",")})`;
}

function scatterSets(groups, min, max) {
    return groups.map(([period, value, points], i) => ({
        data: points.map(p => ({ x: p[0], y: p[1] })),
        pointStyle: markers[period].style,
        rotation: markers[period].rotation,
        pointRadius: markers[period].radius,
        backgroundColor: colourAt((value - min) / (max - min)),
        borderColor: "#1e1e1e",
        borderWidth: 1,
        showLine: false,
        order: groups.length + 5 - i
    }));
}

function starSet(xs, ys) {
    return {
        data: xs.map((x, i) => ({ x, y: ys[i] })),
        pointStyle: "star", pointRadius: 6, borderColor: "#333", borderWidth: 1,
        showLine: false, order: 1
    };
}

function fitSet(xs, ys) {
    return {
        data: xs.map((x, i) => ({ x, y: ys[i] })),
        showLine: true, pointRadius: 0, borderColor: "#b9b9b9", borderWidth: 3,
        borderDash: [9, 5], order: 0
    };
}

function axis(range, ticks, labels, isX, size, borderColor, borderWidth) {
    return {
        type: "linear",
        min: range[0],
        max: range[1],
        afterBuildTicks: s => { s.ticks = ticks.map(value => ({ value })); },
        afterFit: s => { if (isX) s.height = size; else s.width = size; },
        ticks: {
            autoSkip: false, maxRotation: 0, includeBounds: false,
            padding: isX ? 6 : 3,
            color: "#2a2a2a",
            font: { family: "Liberation Serif", size: 15.5 },
            callback: (v, i) => labels[i]
        },
        grid: { color: "#3a3a3a", lineWidth: 1.1, tickLength: 3, tickColor: "#333", tickWidth: 1 },
        border: { color: borderColor, width: borderWidth, dash: [1.4, 2.9] }
    };
}

function extras(shade, names, nameX, nameY, arrow) {
    return {
        id: "extras",
        beforeDatasetsDraw(chart) {
            if (!shade) return;
            const { x, y } = chart.scales, c = chart.ctx;
            c.fillStyle = "#adadad";
            c.fillRect(x.getPixelForValue(shade[0]), y.getPixelForValue(shade[3]),
                x.getPixelForValue(shade[1]) - x.getPixelForValue(shade[0]),
                y.getPixelForValue(shade[2]) - y.getPixelForValue(shade[3]));
        },
        afterDatasetsDraw(chart) {
            const { x, y } = chart.scales, c = chart.ctx;
            c.save();
            c.fillStyle = "#2a2a2a";
            c.strokeStyle = "#111";
            c.font = "16.5px 'Liberation Serif'";
            c.textBaseline = "middle";
            (names || []).forEach((n, i) => c.fillText(n, x.getPixelForValue(nameX[i]), y.getPixelForValue(nameY[i])));
            if (arrow) {
                const px = x.getPixelForValue(arrow[0]), top = y.getPixelForValue(arrow[2]);
                c.lineWidth = 1;
                c.beginPath();
                c.moveTo(px, y.getPixelForValue(arrow[1]));
                c.lineTo(px, top);
                c.stroke();
                c.beginPath();
                c.moveTo(px, top - 1);
                c.lineTo(px - 3, top + 5);
                c.lineTo(px + 3, top + 5);
                c.fill();
            }
            c.restore();
        }
    };
}

function drawPanel(id, area, xAxis, yAxis, datasets, plugin) {
    const canvas = document.getElementById(id);
    new Chart(canvas, {
        type: "scatter",
        data: { datasets },
        options: {
            responsive: false,
            animation: false,
            devicePixelRatio: 1,
            events: [],
            layout: { padding: { top: area.top, right: canvas.width - area.right, left: 0, bottom: 0 } },
            plugins: { legend: { display: false }, tooltip: { enabled: false } },
            scales: {
                x: axis(xAxis.range, xAxis.ticks, xAxis.labels, true, canvas.height - area.bottom, xAxis.color, xAxis.width),
                y: axis(yAxis.range, yAxis.ticks, yAxis.labels, false, area.left, yAxis.color, yAxis.width)
            }
        },
        plugins: plugin ? [plugin] : []
    });
}

function colourBar(left, top, labelLeft, values, labels, min, max) {
    const stops = colourStops.map(([t, c]) => `${c} ${(4 + t * 96).toFixed(1)}%`).join(",");
    const bar = document.createElement("div");
    bar.className = "bar";
    bar.style.cssText = `left:${left}px;top:${top}px;background:linear-gradient(to top,#0808ff 0,${stops})`;
    document.body.appendChild(bar);
    values.forEach((v, i) => {
        const y = 95 * (1 - (4 + (v - min) / (max - min) * 96) / 100);
        const mark = document.createElement("i");
        mark.style.top = y + "px";
        bar.appendChild(mark);
        const label = document.createElement("span");
        label.className = "cb";
        label.textContent = labels[i];
        label.style.left = labelLeft + "px";
        label.style.top = top + y + "px";
        document.body.appendChild(label);
    });
}

drawPanel("panelA", { left: 56, right: 364, top: 28.6, bottom: 287.3 },
    { range: [33, 35.3], ticks: aXTicks, labels: aXLabels, color: "#555", width: 1.6 },
    { range: [-2, 6.17], ticks: aYTicks, labels: aYLabels, color: "#555", width: 1.6 },
    [starSet(aMassX, aMassY), ...scatterSets([
        ["SO", 4.8, aSoGreen], ["SO", 6.3, aSoOlive], ["SO", 8.4, aSoOrange],
        ["NDJ", 3, aNdjGrey], ["NDJ", 8.9, aNdjOrange], ["NDJ", 11, aNdjRed],
        ["FMA", 2.9, aFmaGrey], ["FMA", 11.2, aFmaRed],
        ["MJ", 2.9, aMjGrey], ["MJ", 8, aMjOrange], ["MJ", 4.8, aMjGreen], ["MJ", 1.5, aMjPurple]
    ], 0, 13)],
    extras(aShade, aMassNames, aNameX, aNameY));

drawPanel("panelB", { left: 63, right: 372.7, top: 28.6, bottom: 287.3 },
    { range: [32.5, 35.2], ticks: bXTicks, labels: bXLabels, color: "#111", width: 1.4 },
    { range: [-2, 3.08], ticks: bYTicks, labels: bYLabels, color: "#111", width: 1.4 },
    [starSet(bMassX, bMassY), ...scatterSets([
        ["SO", .5, bSoBlue], ["SO", 2, bSoSlate], ["SO", 2.9, bSoGrey],
        ["NDJ", 2.4, bNdjSlate], ["NDJ", 4.7, bNdjGreen], ["NDJ", 6.3, bNdjOlive],
        ["NDJ", 8.6, bNdjOrange], ["NDJ", 1.9, bNdjPurple], ["FMA", 9.4, bFmaOrange]
    ], 0, 13)],
    extras(bShade, aMassNames, bNameX, bNameY, bArrow));

drawPanel("panelC", { left: 69.3, right: 364.7, top: 35, bottom: 294 },
    { range: [26, 28], ticks: sigmaTicks, labels: sigmaLabels, color: "#666", width: 2 },
    { range: [0, 13], ticks: nitrateTicks, labels: nitrateLabels, color: "#111", width: 1.4 },
    [fitSet(cFitX, cFitY), ...scatterSets([
        ["SO", 4.8, cSoGreen], ["SO", 6.3, cSoOlive], ["SO", 8.2, cSoLight], ["SO", 9.7, cSoOrange],
        ["NDJ", 8.8, cNdjOrange], ["NDJ", 10.2, cNdjRed], ["FMA", 11.2, cFmaPeak], ["MJ", 11, cMjRed]
    ], 0, 13)]);

drawPanel("panelD", { left: 78, right: 373, top: 35, bottom: 294.3 },
    { range: [26, 28], ticks: sigmaTicks, labels: sigmaLabels, color: "#111", width: 1.4 },
    { range: [0, 13], ticks: nitrateTicks, labels: nitrateLabels, color: "#111", width: 1.4 },
    [fitSet(dFitX, dFitY), ...scatterSets([
        ["SO", 33.1, dSoGrey], ["SO", 32.9, dSoIndigo], ["SO", 32.95, dSoPurple], ["SO", 33.6, dSoGreen], ["SO", 33.95, dSoOlive],
        ["NDJ", 33.7, dNdjGreen], ["NDJ", 34, dNdjOlive], ["NDJ", 34.3, dNdjYellow],
        ["FMA", 34.55, dFmaOrange], ["MJ", 34.5, dMjOrange]
    ], 32.5, 35.5)]);

colourBar(460, 36.7, 483, [12.5, 10, 7.5, 5, 2.5, 0], ["12.5", "10.0", "7.5", "5.0", "2.5", "0"], 0, 13);
colourBar(475.7, 392.7, 497.7, [...salinityTicks].reverse(), [...salinityLabels].reverse(), 32.5, 35.6);
</script>
</body>
</html>
